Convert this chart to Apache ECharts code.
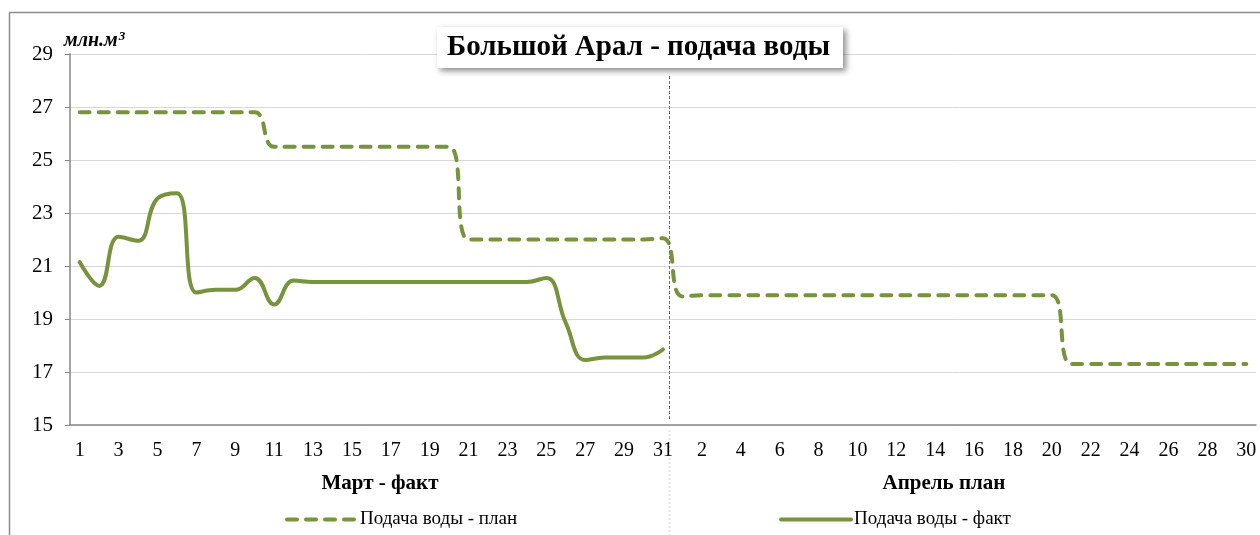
<!DOCTYPE html>
<html>
<head>
<meta charset="utf-8">
<script src="https://cdn.jsdelivr.net/npm/echarts@6/dist/echarts.min.js"></script>
<style>
  html, body { margin: 0; padding: 0; background: #fff; }
  #chart { width: 1260px; height: 535px; }
</style>
</head>
<body>
<div id="chart"></div>
<script>
// дни марта (факт) и апреля (план)
const marchDays = ['1','2','3','4','5','6','7','8','9','10','11','12','13','14','15','16','17','18','19','20','21','22','23','24','25','26','27','28','29','30','31'];
const aprilDays = ['1','2','3','4','5','6','7','8','9','10','11','12','13','14','15','16','17','18','19','20','21','22','23','24','25','26','27','28','29','30'];

// подача воды - план, млн.м3
const planMarch = [26.8,26.8,26.8,26.8,26.8,26.8,26.8,26.8,26.8,26.8,
                   25.5,25.5,25.5,25.5,25.5,25.5,25.5,25.5,25.5,25.5,
                   22.0,22.0,22.0,22.0,22.0,22.0,22.0,22.0,22.0,22.0,22.05];
const planApril = [19.85,19.9,19.9,19.9,19.9,19.9,19.9,19.9,19.9,19.9,
                   19.9,19.9,19.9,19.9,19.9,19.9,19.9,19.9,19.9,19.9,
                   17.3,17.3,17.3,17.3,17.3,17.3,17.3,17.3,17.3,17.3];

// подача воды - факт (только март)
const factMarch = [21.15,20.25,22.1,21.95,23.55,23.75,20.0,20.1,20.1,20.55,
                   19.55,20.45,20.4,20.4,20.4,20.4,20.4,20.4,20.4,20.4,
                   20.4,20.4,20.4,20.4,20.55,18.85,17.45,17.55,17.55,17.55,17.85];

const yTicks = { min: 15, max: 29, interval: 2 };

const serif = 'Liberation Serif';
const green = '#77933C';

const categories = marchDays.concat(aprilDays);
const planData = planMarch.concat(planApril);
const factData = factMarch.concat(aprilDays.map(() => null));

const chart = echarts.init(document.getElementById('chart'));

const option = {
  animation: false,
  title: {
    text: 'Большой Арал - подача воды',
    left: 437,
    top: 27,
    padding: [6, 13, 6, 10],
    backgroundColor: '#fff',
    shadowBlur: 6,
    shadowColor: 'rgba(0,0,0,0.45)',
    shadowOffsetX: 3,
    shadowOffsetY: 3,
    textStyle: { fontFamily: serif, fontSize: 29, fontWeight: 'bold', color: '#000' }
  },
  grid: { left: 70, right: 4, top: 54, bottom: 110 },
  legend: {
    bottom: 1,
    left: 280,
    itemWidth: 70,
    itemHeight: 12,
    itemGap: 262,
    itemStyle: { opacity: 0 },
    lineStyle: { width: 4 },
    textStyle: { fontFamily: serif, fontSize: 19, color: '#000', padding: [0, 0, 0, -2] },
    data: ['Подача воды - план', 'Подача воды - факт']
  },
  xAxis: {
    type: 'category',
    data: categories,
    boundaryGap: true,
    axisLine: { lineStyle: { color: '#868686', width: 1.5 } },
    axisTick: { interval: 0, length: 5, lineStyle: { color: '#868686' } },
    axisLabel: { interval: 1, margin: 16, fontFamily: serif, fontSize: 20, color: '#000' },
    splitLine: { show: false }
  },
  yAxis: {
    type: 'value',
    min: yTicks.min,
    max: yTicks.max,
    interval: yTicks.interval,
    axisLine: { show: true, lineStyle: { color: '#868686', width: 1.5 } },
    axisTick: { show: true, length: 5, lineStyle: { color: '#868686' } },
    axisLabel: { margin: 17, fontFamily: serif, fontSize: 21, color: '#000' },
    splitLine: { lineStyle: { color: '#d9d9d9', width: 1 } }
  },
  series: [
    {
      name: 'Подача воды - план',
      type: 'line',
      data: planData,
      smooth: 0.5,
      symbol: 'none',
      lineStyle: { color: green, width: 4, type: [10, 9], cap: 'round' },
      itemStyle: { color: green }
    },
    {
      name: 'Подача воды - факт',
      type: 'line',
      data: factData,
      smooth: 0.45,
      symbol: 'none',
      lineStyle: { color: green, width: 4, cap: 'round' },
      itemStyle: { color: green }
    }
  ]
};

chart.setOption(option);

// разделитель март / апрель и подписи групп
const xa = chart.convertToPixel({ xAxisIndex: 0 }, marchDays.length - 1);
const xb = chart.convertToPixel({ xAxisIndex: 0 }, marchDays.length);
const xDiv = Math.round((xa + xb) / 2) - 3.5;
const yTop = chart.convertToPixel({ yAxisIndex: 0 }, yTicks.max);
const yBot = chart.convertToPixel({ yAxisIndex: 0 }, yTicks.min);

chart.setOption({
  graphic: [
    {
      type: 'rect', silent: true, z: -1,
      shape: { x: 9.5, y: 12.5, width: 1400, height: 700 },
      style: { fill: 'none', stroke: '#8c8c8c', lineWidth: 1.5 }
    },
    {
      type: 'line', silent: true, z: 5,
      shape: { x1: xDiv, y1: yTop + 22, x2: xDiv, y2: yBot - 5 },
      style: { stroke: '#6e6e6e', lineWidth: 1, lineDash: [3, 2] }
    },
    {
      type: 'line', silent: true,
      shape: { x1: xDiv, y1: yBot + 5, x2: xDiv, y2: 535 },
      style: { stroke: '#e3e3e3', lineWidth: 2, lineDash: [2, 2] }
    },
    {
      type: 'text', left: 64, top: 30,
      style: {
        text: '{a|млн.м}{b|3}',
        rich: {
          a: { fontFamily: serif, fontSize: 20, fontWeight: 'bold', fontStyle: 'italic', color: '#000' },
          b: { fontFamily: serif, fontSize: 13, fontWeight: 'bold', fontStyle: 'italic', color: '#000', verticalAlign: 'top', padding: [0, 0, 9, 1] }
        }
      }
    },
    {
      type: 'text', x: 380, y: 484,
      style: { text: 'Март - факт', fontFamily: serif, fontSize: 21, fontWeight: 'bold', fill: '#000', align: 'center', verticalAlign: 'middle' }
    },
    {
      type: 'text', x: 944, y: 484,
      style: { text: 'Апрель план', fontFamily: serif, fontSize: 21, fontWeight: 'bold', fill: '#000', align: 'center', verticalAlign: 'middle' }
    }
  ]
});
</script>
</body>
</html>
